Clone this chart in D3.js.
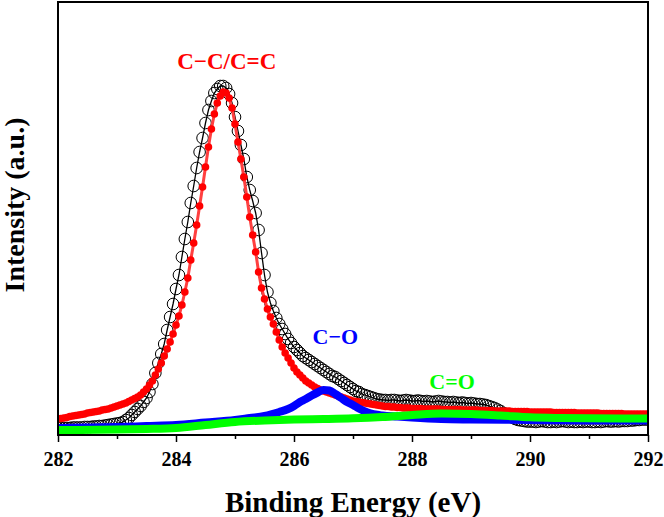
<!DOCTYPE html>
<html><head><meta charset="utf-8">
<script src="https://cdn.jsdelivr.net/npm/d3@7"></script>
<style>body{margin:0;background:#fff}svg{display:block}</style>
</head><body>
<svg id="c" width="664" height="517"></svg>
<script>
// Binding energy grid (eV), 0.05 eV step
const energy = d3.range(0, 201).map(i => +(282 + i * 0.05).toFixed(2));

// Measured C1s intensity (a.u.)
const rawIntensity = [
  7,7,7,7,7,7.5,7.5,7.5,7.5,8,
  8,8,8.5,8.5,9,9,9.5,10,10.5,11,
  11.5,12,13,15,17,20,23,26,29,33,
  37,43,51,62,72,81,91,105,118,131,
  146,160,178,196,213,232,249,267,283,297,
  312,325,334,342,346,349,349,347,341,332,
  318,304,290,276,258,245,234,222,205,182,
  160,143,132,124,117,111,106,101,96,92,
  88,85,82,79,77,75,73,71,69,67,
  65,63,61,59,58,56,54,52,50,48,
  46,44,43,41,40,39,38,37,36,35.5,
  35,35,34.5,35,35,34.5,34,34.5,35,34.5,
  34,34,34.5,34,33.5,34,33.5,33,33.5,34,
  33.5,33,33,32.5,33,32.5,32,32.5,32,31.5,
  32,31.5,31,31,30.5,30,29,28,27,25.5,
  24,22,20.5,19,17.5,16,15,14.5,14,13.5,
  13.5,
  13.5,13,13.5,14,13.5,13,13,13.5,13,13.5,
  14,13.5,13,13.5,13,13,13.5,13,13.5,13.5,
  13,13,13.5,13,13.5,14,13.5,13.5,14,13.5,
  14,14,
  14,14.5,14.5,15,15,15.5,15.5,15.5
];

// C−C/C=C fitted component
const fitCC = [
  16,16.5,17,17.5,18.5,19,19.5,20,20.5,21,
  22,22.5,23,23.5,24,25,25.5,26,27,28,
  29,30,31,32,33.5,35,36.5,38,40,43,
  46,50,54,60,66,72,79,86,93,101,
  110,119,130,143,157,175,192,210,229,248,
  268,288,306,321,332,339,343,342,337,327,
  311,293,276,258,238,218,200,183,163,147,
  136,126,118,111,103,95,88,82,77,72,
  67,63,60,57,54,52,50,48,46.5,45,
  44,43,42,41,40,39,38,37,36,35,
  34,33.5,33,32.5,32,31.5,31,30.5,30,29.5,
  29,28.5,28.5,28,28,27.5,27.5,27,27,27,
  26.5,26.5,26.5,26.5,26,26,26,26,26,26,
  25.5,25.5,25.5,25.5,25.5,25.5,25.5,25,25,25,
  25,25,25,24.5,24.5,24.5,24.5,24.5,24,24,
  24,24,24,24,23.5,23.5,23.5,23.5,23.5,23.5,
  23,23,23,23,23,23,23,23,22.5,22.5,
  22.5,22.5,22.5,22.5,22.5,22.5,22,22,22,22,
  22,22,22,22,21.5,21.5,21.5,21.5,21.5,21.5,
  21.5,21.5,21,21,21,21,21,21,21,21,21
];

// C−O fitted component
const coEnergy = [282,282.5,283,283.5,284,284.5,285,285.25,285.5,285.75,285.9,286,286.1,286.2,286.3,286.4,286.5,286.6,286.7,286.8,286.9,287,287.1,287.25,287.5,287.75,288,288.5,289,290,291,292];
const coFit    = [7,7.5,8,9,10,12.5,15,17,19,23,26,29,33,36,39.5,42.5,45,44.5,41,37,33,30,26.5,22.5,19.5,18.5,17.5,16,15.5,15,14.5,14.5];

// C=O fitted component
const c2oEnergy = [282,283,283.5,284,284.5,285,285.5,286,286.5,287,287.5,288,288.5,289,289.5,290,290.5,291,292];
const c2oFit    = [5,5.5,6,7,10,13,14.5,15.5,16,16.7,18,20,21.5,21,19.5,17.7,17,16.7,16.5];

const majorTicks = [282,284,286,288,290,292];
const minorTicks = [283,285,287,289,291];

const svg = d3.select("#c");
const L = 58, R = 648, T = 2, B = 435;
const x = d3.scaleLinear().domain([282, 292]).range([L, R]);
const y = d3.scaleLinear().domain([0, 433]).range([B, T]);

svg.append("defs").append("clipPath").attr("id","clip")
  .append("rect").attr("x",L).attr("y",T).attr("width",R-L).attr("height",B-T);

const g = svg.append("g").attr("clip-path","url(#clip)");
const line = d3.line().x(d => x(d[0])).y(d => y(d[1]));
const curve = d3.line().curve(d3.curveMonotoneX).x(d => x(d[0])).y(d => y(d[1]));

const raw = energy.map((e,i) => [e, rawIntensity[i]]);
const cc = energy.map((e,i) => [e, fitCC[i]]);
const co = coEnergy.map((e,i) => [e, coFit[i]]);
const c2o = c2oEnergy.map((e,i) => [e, c2oFit[i]]);

// raw data
g.append("path").attr("d", line(raw)).attr("fill","none").attr("stroke","#000").attr("stroke-width",1.3);
g.selectAll("circle.raw").data(raw).join("circle").attr("class","raw")
  .attr("cx", d => x(d[0])).attr("cy", d => y(d[1])).attr("r",5.8)
  .attr("fill","none").attr("stroke","#000").attr("stroke-width",1);

// C-C fit
g.append("path").attr("d", line(cc)).attr("fill","none").attr("stroke","#ff4040").attr("stroke-width",3);
g.selectAll("circle.cc").data(cc).join("circle").attr("class","cc")
  .attr("cx", d => x(d[0])).attr("cy", d => y(d[1])).attr("r",3.8).attr("fill","#ff0000");

// C-O fit
g.append("path").attr("d", curve(co)).attr("fill","none").attr("stroke","#0000ff")
  .attr("stroke-width",8).attr("stroke-linejoin","round").attr("stroke-linecap","round");

// C=O fit
g.append("path").attr("d", curve(c2o)).attr("fill","none").attr("stroke","#00ff00")
  .attr("stroke-width",8).attr("stroke-linejoin","round").attr("stroke-linecap","round");

// frame
svg.append("rect").attr("x",L).attr("y",T).attr("width",R-L).attr("height",B-T)
  .attr("fill","none").attr("stroke","#000").attr("stroke-width",2);

// axes
const font = "'Liberation Serif','Times New Roman',serif";
const ax = svg.append("g").attr("transform",`translate(0,${B})`)
  .call(d3.axisBottom(x).tickValues(majorTicks).tickSize(7).tickPadding(10).tickFormat(d3.format("d")));
ax.select(".domain").remove();
ax.selectAll("line").attr("stroke-width",1.5);
ax.selectAll("text").attr("font-family",font).attr("font-weight","bold").attr("font-size",20).attr("fill","#000");
const axm = svg.append("g").attr("transform",`translate(0,${B})`)
  .call(d3.axisBottom(x).tickValues(minorTicks).tickSize(4).tickFormat(""));
axm.select(".domain").remove();
axm.selectAll("line").attr("stroke-width",1.5);

svg.append("text").attr("x",(L+R)/2).attr("y",512).attr("text-anchor","middle")
  .attr("font-family",font).attr("font-weight","bold").attr("font-size",29).text("Binding Energy (eV)");
svg.append("text").attr("transform","translate(24,205) rotate(-90)").attr("text-anchor","middle")
  .attr("font-family",font).attr("font-weight","bold").attr("font-size",28).text("Intensity (a.u.)");

// peak labels
const lab = (t, e, v, c, s) => svg.append("text").attr("x", x(e)).attr("y", y(v)).attr("text-anchor","middle")
  .attr("font-family",font).attr("font-weight","bold").attr("font-size",s).attr("fill",c).text(t);
lab("C\u2212C/C=C", 284.86, 366, "#ff0000", 23);
lab("C\u2212O", 286.7, 91, "#0000ff", 22);
lab("C=O", 288.68, 46, "#00ff00", 22);
</script>
</body></html>
